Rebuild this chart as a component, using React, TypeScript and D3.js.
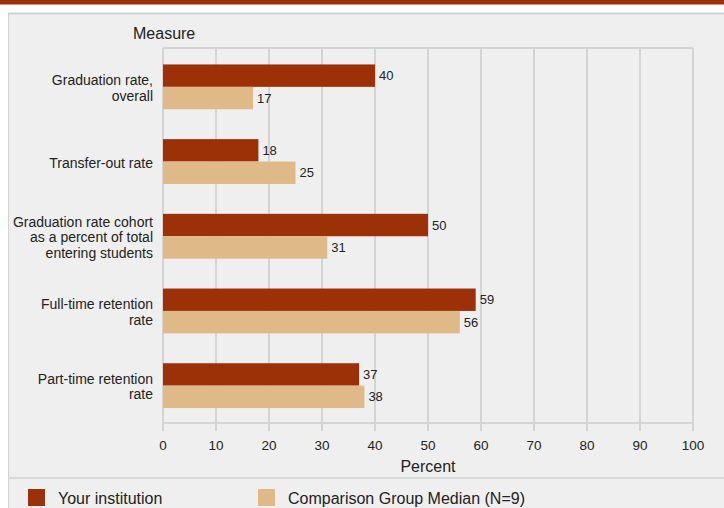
// @ts-nocheck
import { useEffect, useRef } from 'react';
import * as d3 from 'd3';

const categories = [
  ['Graduation rate,', 'overall'],
  ['Transfer-out rate'],
  ['Graduation rate cohort', 'as a percent of total', 'entering students'],
  ['Full-time retention', 'rate'],
  ['Part-time retention', 'rate'],
];
const institutionValues = [40, 18, 50, 59, 37];
const comparisonValues = [17, 25, 31, 56, 38];
const xTicks = [0, 10, 20, 30, 40, 50, 60, 70, 80, 90, 100];
const seriesNames = ['Your institution', 'Comparison Group Median (N=9)'];

const width = 724;
const height = 508;
const DARK = '#9c3108';
const LIGHT = '#e0b988';
const FONT = 'Arial, "Liberation Sans", Helvetica, sans-serif';

const App = () => {
  const svgRef = useRef<SVGSVGElement>(null);

  useEffect(() => {
    document.body.style.margin = '0';
    const svg = d3.select(svgRef.current);
    svg.selectAll('*').remove();

    // page background + top stripe
    svg.append('rect').attr('width', width).attr('height', height).attr('fill', '#fff');
    svg.append('rect').attr('x', 0).attr('y', 0).attr('width', width).attr('height', 4.5).attr('fill', DARK);

    // grey panel
    svg.append('rect').attr('x', 8).attr('y', 13).attr('width', width - 8).attr('height', height - 13).attr('fill', '#efefef');
    svg.append('line').attr('x1', 8).attr('x2', width).attr('y1', 13.5).attr('y2', 13.5).attr('stroke', '#d2d2d2').attr('stroke-width', 2);
    svg.append('line').attr('x1', 8.5).attr('x2', 8.5).attr('y1', 13).attr('y2', height).attr('stroke', '#d2d2d2').attr('stroke-width', 1);
    svg.append('line').attr('x1', 8).attr('x2', width).attr('y1', 478).attr('y2', 478).attr('stroke', '#dadada').attr('stroke-width', 2);

    const plot = { left: 163, right: 693, top: 48, bottom: 423 };
    const x = d3.scaleLinear().domain([0, 100]).range([plot.left, plot.right]);
    const y = d3.scaleBand().domain(d3.range(categories.length)).range([plot.top + 1.5, plot.bottom]).paddingInner(0.4).paddingOuter(0.2);
    const sub = d3.scaleBand().domain([0, 1]).range([0, y.bandwidth()]);

    // grid
    const grid = svg.append('g');
    xTicks.forEach((t) => {
      grid.append('line')
        .attr('x1', x(t)).attr('x2', x(t))
        .attr('y1', plot.top).attr('y2', plot.bottom + 8)
        .attr('stroke', '#d4d4d4').attr('stroke-width', 2);
    });
    grid.append('line')
      .attr('x1', plot.left).attr('x2', plot.right)
      .attr('y1', plot.top).attr('y2', plot.top)
      .attr('stroke', '#d4d4d4').attr('stroke-width', 2);
    grid.append('line')
      .attr('x1', plot.left - 1).attr('x2', plot.right + 1)
      .attr('y1', plot.bottom).attr('y2', plot.bottom)
      .attr('stroke', '#d4d4d4').attr('stroke-width', 2);

    // bars
    const series = [institutionValues, comparisonValues];
    const colors = [DARK, LIGHT];
    series.forEach((vals, s) => {
      vals.forEach((v, i) => {
        const yy = y(i) + sub(s);
        svg.append('rect')
          .attr('x', x(0)).attr('y', yy)
          .attr('width', x(v) - x(0)).attr('height', sub.bandwidth())
          .attr('fill', colors[s]);
        svg.append('text')
          .attr('x', x(v) + 4).attr('y', yy + sub.bandwidth() / 2)
          .attr('dominant-baseline', 'central')
          .attr('font-family', FONT).attr('font-size', 13).attr('fill', '#222')
          .text(v);
      });
    });

    // category labels
    categories.forEach((lines, i) => {
      const cy = y(i) + y.bandwidth() / 2;
      const lh = 15.5;
      const t = svg.append('text')
        .attr('text-anchor', 'end')
        .attr('font-family', FONT).attr('font-size', 14).attr('fill', '#222');
      lines.forEach((ln, j) => {
        t.append('tspan')
          .attr('x', 153)
          .attr('y', cy + 1 + (j - (lines.length - 1) / 2) * lh)
          .attr('dominant-baseline', 'central')
          .text(ln);
      });
    });

    // axis tick labels
    xTicks.forEach((t) => {
      svg.append('text')
        .attr('x', x(t)).attr('y', 445)
        .attr('text-anchor', 'middle').attr('dominant-baseline', 'central')
        .attr('font-family', FONT).attr('font-size', 13.5).attr('fill', '#222')
        .text(t);
    });

    svg.append('text')
      .attr('x', (plot.left + plot.right) / 2).attr('y', 466)
      .attr('text-anchor', 'middle').attr('dominant-baseline', 'central')
      .attr('font-family', FONT).attr('font-size', 16).attr('fill', '#222')
      .text('Percent');

    svg.append('text')
      .attr('x', 133).attr('y', 33)
      .attr('dominant-baseline', 'central')
      .attr('font-family', FONT).attr('font-size', 16).attr('fill', '#222')
      .text('Measure');

    // legend
    const legendX = [28, 258];
    seriesNames.forEach((name, s) => {
      svg.append('rect')
        .attr('x', legendX[s]).attr('y', 489)
        .attr('width', 17).attr('height', 17)
        .attr('fill', colors[s]);
      svg.append('text')
        .attr('x', legendX[s] + 30).attr('y', 498)
        .attr('dominant-baseline', 'central')
        .attr('font-family', FONT).attr('font-size', 16).attr('fill', '#222')
        .text(name);
    });
  }, []);

  return (
    <svg
      ref={svgRef}
      width={width}
      height={height}
      style={{ position: 'absolute', left: 0, top: 0, display: 'block' }}
    />
  );
};

export default App;
